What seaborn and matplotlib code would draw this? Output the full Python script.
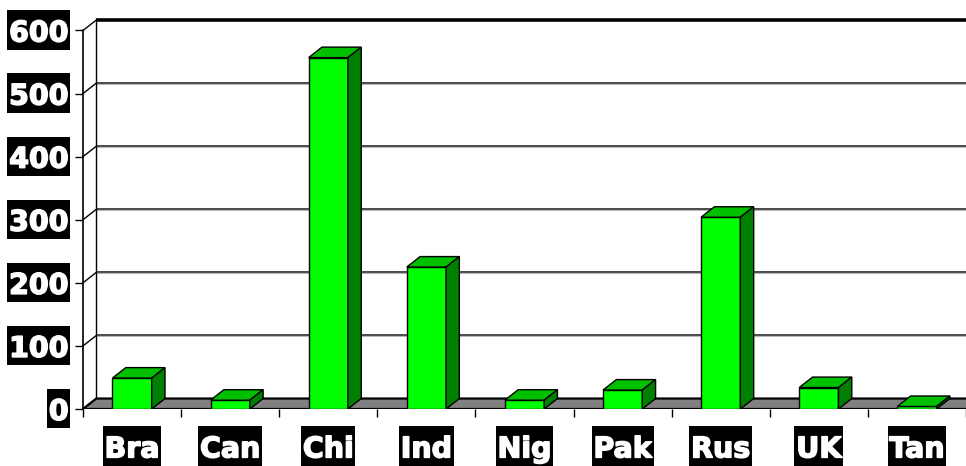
import numpy as np
import pandas as pd
import matplotlib
matplotlib.use("Agg")
import matplotlib.pyplot as plt
import matplotlib.patheffects as pe
import seaborn as sns
from matplotlib.patches import Polygon
from matplotlib.path import Path

# Data
countries = ["Bra", "Can", "Chi", "Ind", "Nig", "Pak", "Rus", "UK", "Tan"]
values = [49, 14, 557, 225, 14, 30, 304, 34, 4]
y_ticks = [0, 100, 200, 300, 400, 500, 600]

df = pd.DataFrame({"country": countries, "value": values})

sns.set_theme(style="white")
plt.rcParams["font.family"] = ["DejaVu Sans"]

W, H = 966, 466
fig = plt.figure(figsize=(W / 100, H / 100), dpi=100)
fig.patch.set_facecolor("white")
ax = fig.add_axes([83 / W, 1 - 409 / H, 1 - 83 / W, (409 - 20) / H])
ax.set_facecolor("white")

# 3-D depth offset, in data units
DX = 0.136
DY = 16.6
X0, X1 = -0.5, len(countries) - 0.5
YMAX = y_ticks[-1]

# back-wall gridlines and left-wall connectors
for v in y_ticks[1:-1]:
    ax.plot([X0 + DX, X1], [v + DY, v + DY], color="#3a3a3a", lw=1.3, zorder=1,
            solid_capstyle="butt")
    ax.plot([X0 + DX, X1], [v + DY - 1.6, v + DY - 1.6], color="#b8b8b8", lw=0.8,
            zorder=1)
for v in y_ticks:
    ax.plot([X0, X0 + DX], [v, v + DY], color="black", lw=1.0, zorder=2,
            clip_on=False)
ax.plot([X0 + DX, X1], [YMAX + DY, YMAX + DY], color="black", lw=2.6, zorder=2,
        clip_on=False, solid_capstyle="butt")
ax.plot([X0 + DX, X0 + DX], [DY, YMAX + DY], color="black", lw=1.0, zorder=2,
        clip_on=False)
ax.plot([X0, X0], [0, YMAX], color="black", lw=1.2, zorder=2, clip_on=False)

# floor
floor = Polygon([(X0, 0), (X1 + 1, 0), (X1 + 1 + DX, DY), (X0 + DX, DY)],
                closed=True, facecolor="#808080", edgecolor="black", lw=1.6,
                zorder=2)
ax.add_patch(floor)

# front faces of bars
sns.barplot(data=df, x="country", y="value", color="#00ff00", saturation=1,
            width=0.4, edgecolor="black", linewidth=1.0, ax=ax, zorder=4)

# top and side faces
for p in list(ax.patches):
    if p is floor:
        continue
    x0, w, h = p.get_x(), p.get_width(), p.get_height()
    top = Polygon([(x0, h), (x0 + w, h), (x0 + w + DX, h + DY), (x0 + DX, h + DY)],
                  closed=True, facecolor="#00c000", edgecolor="black", lw=1.0,
                  zorder=4)
    side = Polygon([(x0 + w, 0), (x0 + w + DX, DY), (x0 + w + DX, h + DY), (x0 + w, h)],
                   closed=True, facecolor="#008000", edgecolor="black", lw=1.0,
                   zorder=4)
    ax.add_patch(top)
    ax.add_patch(side)

ax.set_xlim(X0, X1)
ax.set_ylim(0, YMAX + DY)
for s in ax.spines.values():
    s.set_visible(False)
ax.set_xlabel("")
ax.set_ylabel("")


# label background: black block with uneven padding
def label_box(x0, y0, width, height, mutation_size):
    px = 0.06 * mutation_size
    pb = 0.08 * mutation_size
    pt = 0.32 * mutation_size
    verts = [(x0 - px, y0 - pb), (x0 + width + px, y0 - pb),
             (x0 + width + px, y0 + height + pt), (x0 - px, y0 + height + pt),
             (x0 - px, y0 - pb)]
    return Path(verts, closed=True)


ax.set_yticks(y_ticks)
ax.set_yticklabels([str(v) for v in y_ticks])
ax.set_xticks(range(len(countries)))
ax.set_xticklabels(countries)
ax.set_xticks(np.arange(X0, X1 + 0.01, 1.0), minor=True)

ax.tick_params(axis="y", which="major", left=True, length=6, width=1.0,
               color="black", direction="out", pad=4.3)
ax.tick_params(axis="x", which="major", bottom=True, length=0, pad=19.0)
ax.tick_params(axis="x", which="minor", bottom=True, length=6, width=1.0,
               color="black", direction="out")

heavy = [pe.withStroke(linewidth=1.1, foreground="white")]
for lbl in ax.get_xticklabels() + ax.get_yticklabels():
    lbl.set_color("white")
    lbl.set_fontweight("bold")
    lbl.set_fontsize(20.5)
    lbl.set_path_effects(heavy)
    lbl.set_bbox(dict(boxstyle=label_box, facecolor="black", edgecolor="none"))

fig.savefig("out.png", dpi=100, facecolor="white")
